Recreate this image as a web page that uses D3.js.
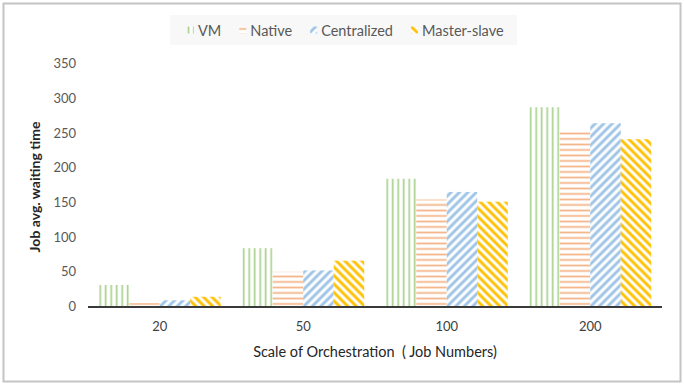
<!DOCTYPE html>
<html>
<head>
<meta charset="utf-8">
<script src="https://cdn.jsdelivr.net/npm/d3@7/dist/d3.min.js"></script>
<style>
  html, body { margin: 0; padding: 0; background: #fff; }
  svg { display: block; }
  text { font-family: Lato, "Liberation Sans", sans-serif; }
</style>
</head>
<body>
<svg id="chart" width="684" height="385"></svg>
<script>
// Job average waiting time by orchestration scale
const categories = ["20", "50", "100", "200"];
const seriesNames = ["VM", "Native", "Centralized", "Master-slave"];
const vmValues = [31, 84, 184, 287];
const nativeValues = [5, 50, 154, 254];
const centralizedValues = [9, 52, 165, 264];
const masterSlaveValues = [14, 66, 151, 241];
const yTicks = [0, 50, 100, 150, 200, 250, 300, 350];

const seriesValues = [vmValues, nativeValues, centralizedValues, masterSlaveValues];
const seriesColors = ["#a9d18e", "#f4b183", "#9dc3e6", "#ffc000"];

const svg = d3.select("#chart");
const W = 684, H = 385;

// outer frame
svg.append("rect")
  .attr("x", 3.5).attr("y", 3.5)
  .attr("width", W - 7).attr("height", H - 7)
  .attr("fill", "#fff")
  .attr("stroke", "#c4c4c4").attr("stroke-width", 2);

// hatch patterns, one per series
const defs = svg.append("defs");
function addPattern(id, color, kind) {
  const straight = kind === "vertical" || kind === "horizontal";
  const P = straight ? 5.5 : 6;
  const w = straight ? 1.7 : 2.9;
  const p = defs.append("pattern")
    .attr("id", id)
    .attr("patternUnits", "userSpaceOnUse")
    .attr("width", P).attr("height", P);
  if (kind === "up") p.attr("patternTransform", "rotate(45)");
  if (kind === "down") p.attr("patternTransform", "rotate(-45)");
  p.append("rect").attr("width", P).attr("height", P).attr("fill", "#fff");
  if (kind === "horizontal") {
    p.append("rect").attr("x", 0).attr("y", 0.6).attr("width", P).attr("height", w).attr("fill", color);
  } else {
    p.append("rect").attr("x", 0.6).attr("y", 0).attr("width", w).attr("height", P).attr("fill", color);
  }
}
const kinds = ["vertical", "horizontal", "up", "down"];
seriesNames.forEach((s, i) => addPattern("pat" + i, seriesColors[i], kinds[i]));

// scales
const plotLeft = 88, plotRight = 662, plotTop = 63.5, plotBottom = 306.5;
const x0 = d3.scaleBand().domain(categories).range([plotLeft, plotRight])
  .paddingInner(0.15).paddingOuter(0.075);
const x1 = d3.scaleBand().domain(seriesNames).range([0, x0.bandwidth()]);
const y = d3.scaleLinear().domain([0, 350]).range([plotBottom, plotTop]);

// bars
const groups = svg.append("g").selectAll("g")
  .data(categories)
  .join("g")
  .attr("transform", d => `translate(${x0(d)},0)`);

groups.selectAll("rect")
  .data((d, ci) => seriesNames.map((s, si) => ({ s, si, v: seriesValues[si][ci] })))
  .join("rect")
  .attr("x", d => x1(d.s))
  .attr("y", d => y(d.v))
  .attr("width", x1.bandwidth())
  .attr("height", d => y(0) - y(d.v))
  .attr("fill", d => `url(#pat${d.si})`);

// y axis labels (no axis line)
const yAxis = d3.axisLeft(y).tickValues(yTicks).tickSize(0).tickPadding(0);
const yg = svg.append("g").attr("transform", "translate(76,0)").call(yAxis);
yg.select(".domain").remove();
yg.selectAll("text")
  .attr("fill", "#595959")
  .style("font-size", "13px")
  .style("font-family", "Lato, 'Liberation Sans', sans-serif");

// x axis
const xAxis = d3.axisBottom(x0).tickSize(0).tickPadding(15);
const xg = svg.append("g").attr("transform", `translate(0,${plotBottom})`).call(xAxis);
xg.select(".domain").remove();
xg.selectAll("text")
  .attr("fill", "#404040")
  .style("font-size", "13px")
  .style("font-family", "Lato, 'Liberation Sans', sans-serif");
svg.append("line")
  .attr("x1", plotLeft).attr("x2", plotRight)
  .attr("y1", plotBottom + 0.5).attr("y2", plotBottom + 0.5)
  .attr("stroke", "#3a3a3a").attr("stroke-width", 2);

// axis titles
svg.append("text")
  .attr("x", (plotLeft + plotRight) / 2).attr("y", 357)
  .attr("text-anchor", "middle")
  .attr("fill", "#262626")
  .style("font-size", "14.5px")
  .style("white-space", "pre")
  .text("Scale of Orchestration  ( Job Numbers)");

svg.append("text")
  .attr("transform", "translate(40,187) rotate(-90)")
  .attr("text-anchor", "middle")
  .attr("fill", "#262626")
  .style("font-size", "14px")
  .style("font-weight", "bold")
  .text("Job avg. waiting time");

// legend
const legend = svg.append("g");
legend.append("rect")
  .attr("x", 170).attr("y", 15).attr("width", 347).attr("height", 30)
  .attr("fill", "#f8f8f8");
let lx = 187;
seriesNames.forEach((s, i) => {
  legend.append("rect")
    .attr("x", lx).attr("y", 26.5).attr("width", 7).attr("height", 7)
    .attr("fill", `url(#pat${i})`);
  const t = legend.append("text")
    .attr("x", lx + 11).attr("y", 35.5)
    .attr("fill", "#595959")
    .style("font-size", "14.5px")
    .text(s);
  lx += 11 + t.node().getComputedTextLength() + 18;
});
</script>
</body>
</html>
